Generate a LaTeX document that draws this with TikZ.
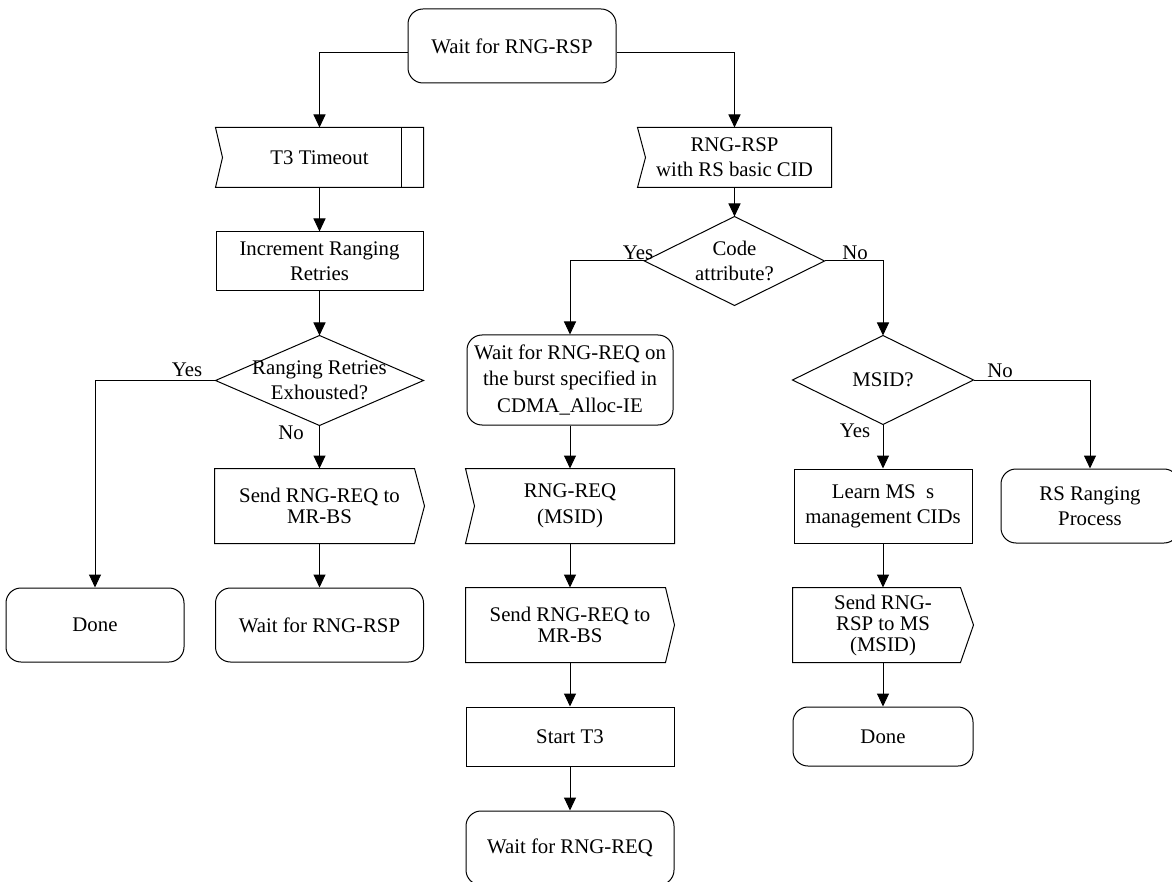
\documentclass[tikz,border=0pt]{standalone}
\usepackage{fontspec}
\setmainfont{Liberation Serif}
\usetikzlibrary{arrows.meta}
\begin{document}
\begin{tikzpicture}[x=1pt,y=-1pt,line width=1pt,
  every node/.style={font=\fontsize{20.8}{25}\selectfont, inner sep=0pt, align=center},
  term/.style={draw, rectangle, rounded corners=15pt},
  proc/.style={draw, rectangle},
  shell/.style={rectangle},
  tight/.style={font=\fontsize{20.8}{21}\selectfont},
  loose/.style={font=\fontsize{20.8}{26.5}\selectfont},
  arr/.style={-{Triangle[length=13pt,width=12pt]}}
]
\useasboundingbox (0,0) rectangle (1172,882);

% left column
\node[term, minimum width=208, minimum height=74] (top) at (512,46) {Wait for RNG-RSP};
\node[shell, minimum width=207, minimum height=59] (t3) at (319.5,157.5) {T3 Timeout};
\node[proc, minimum width=207, minimum height=59] (inc) at (319.5,261.5) {Increment Ranging\\Retries};
\node[shell, minimum width=207, minimum height=89] (d1) at (319.5,380.5) {Ranging Retries\\Exhousted?};
\node[shell, tight, minimum width=209, minimum height=74] (s1) at (319.5,506) {Send RNG-REQ to\\MR-BS};
\node[term, minimum width=208, minimum height=74] (w1) at (319.5,625) {Wait for RNG-RSP};
\node[term, minimum width=178, minimum height=74] (dn1) at (95,625) {Done};

% middle column
\node[shell, minimum width=193, minimum height=59] (rsp) at (734.5,157.5) {RNG-RSP\\with RS basic CID};
\node[shell, minimum width=179, minimum height=88] (d2) at (734.5,261) {Code\\attribute?};
\node[term, loose, minimum width=206, minimum height=90] (wq) at (570,380) {Wait for RNG-REQ on\\the burst specified in\\CDMA\_Alloc-IE};
\node[shell, loose, minimum width=208, minimum height=74] (rq) at (570,506) {RNG-REQ\\(MSID)};
\node[shell, tight, minimum width=208, minimum height=74] (s2) at (570,625) {Send RNG-REQ to\\MR-BS};
\node[proc, minimum width=208, minimum height=59] (st) at (570,736.5) {Start T3};
\node[term, minimum width=208, minimum height=74] (wq2) at (570,848) {Wait for RNG-REQ};

% right column
\node[shell, minimum width=180, minimum height=88] (d3) at (883,380) {MSID?};
\node[proc, minimum width=178, minimum height=74] (ln) at (883,506) {Learn MS\ \ s\\management CIDs};
\node[term, minimum width=178, minimum height=74] (rr) at (1090,506) {RS Ranging\\Process};
\node[shell, tight, minimum width=180, minimum height=74] (s3) at (883,625) {Send RNG-\\RSP to MS\\(MSID)};
\node[term, minimum width=180, minimum height=59] (dn2) at (883,736.5) {Done};

% special outlines
\draw (t3.north west) -- (t3.north east) -- (t3.south east) -- (t3.south west) -- ([xshift=7pt]t3.west) -- cycle;
\draw ([xshift=-22pt]t3.north east) -- ([xshift=-22pt]t3.south east);
\draw (rsp.north west) -- (rsp.north east) -- (rsp.south east) -- (rsp.south west) -- ([xshift=8pt]rsp.west) -- cycle;
\draw (rq.north west) -- (rq.north east) -- (rq.south east) -- (rq.south west) -- ([xshift=9pt]rq.west) -- cycle;
\draw (s1.north west) -- ([xshift=-10pt]s1.north east) -- (s1.east) -- ([xshift=-10pt]s1.south east) -- (s1.south west) -- cycle;
\draw (s2.north west) -- ([xshift=-9pt]s2.north east) -- (s2.east) -- ([xshift=-9pt]s2.south east) -- (s2.south west) -- cycle;
\draw (s3.north west) -- ([xshift=-13pt]s3.north east) -- (s3.east) -- ([xshift=-13pt]s3.south east) -- (s3.south west) -- cycle;
\draw (d1.north) -- (d1.east) -- (d1.south) -- (d1.west) -- cycle;
\draw (d2.north) -- (d2.east) -- (d2.south) -- (d2.west) -- cycle;
\draw (d3.north) -- (d3.east) -- (d3.south) -- (d3.west) -- cycle;

% labels
\node (ly1) at (187,370) {Yes};
\node (ln1) at (291,433) {No};
\node (ly2) at (638,253) {Yes};
\node (ln2) at (855,253) {No};
\node (ln3) at (1000,371) {No};
\node (ly3) at (855,431) {Yes};

% connectors
\draw[arr] ([yshift=-7pt]top.west) -| (t3.north);
\draw[arr] ([yshift=-7pt]top.east) -| (rsp.north);
\draw[arr] (t3.south) -- (inc.north);
\draw[arr] (inc.south) -- (d1.north);
\draw[arr] (d1.west) -| (dn1.north);
\draw[arr] (d1.south) -- (s1.north);
\draw[arr] (s1.south) -- (w1.north);
\draw[arr] (rsp.south) -- (d2.north);
\draw[arr] (d2.west) -| (wq.north);
\draw[arr] (d2.east) -| (d3.north);
\draw[arr] (wq.south) -- (rq.north);
\draw[arr] (rq.south) -- (s2.north);
\draw[arr] (s2.south) -- (st.north);
\draw[arr] (st.south) -- (wq2.north);
\draw[arr] (d3.east) -| (rr.north);
\draw[arr] (d3.south) -- (ln.north);
\draw[arr] (ln.south) -- (s3.north);
\draw[arr] (s3.south) -- (dn2.north);
\end{tikzpicture}
\end{document}
